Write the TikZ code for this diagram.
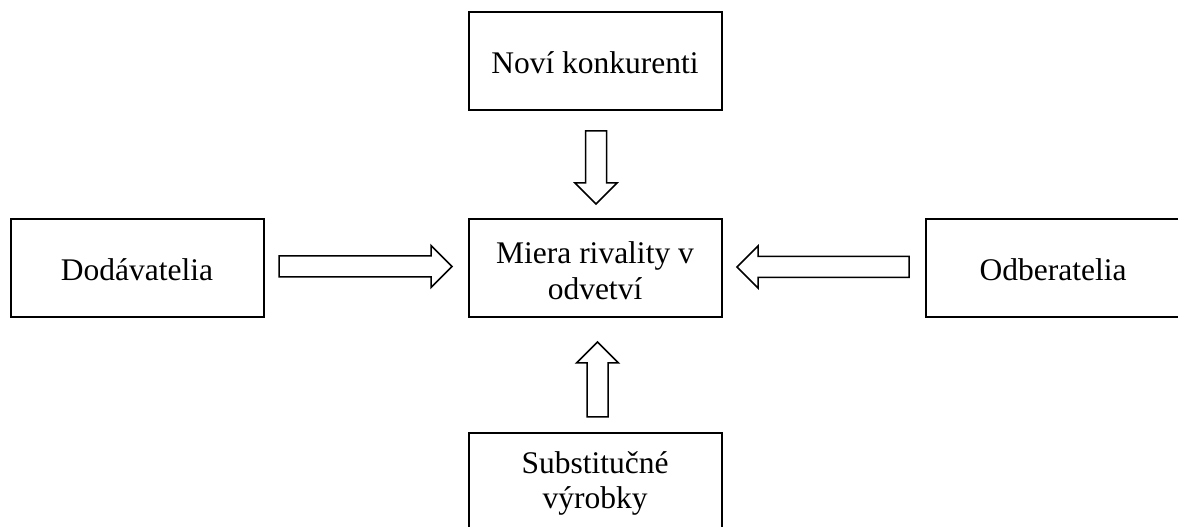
\documentclass[tikz,border=0pt]{standalone}
\usepackage{fontspec}
\setmainfont{Liberation Serif}
\usetikzlibrary{calc}
\tikzset{
  box/.style={draw, line width=2pt, rectangle, minimum width=253pt, minimum height=98pt,
    inner sep=0pt, outer sep=0pt, font=\fontsize{31.5pt}{36pt}\selectfont,
    text height=24.6pt, text depth=0pt},
  blockarrow/.style={line width=1.5pt, to path={
    let \p1=(\tikztostart), \p2=(\tikztotarget),
        \n1={veclen(\x2-\x1,\y2-\y1)},
        \n2={(\x2-\x1)/\n1}, \n3={(\y2-\y1)/\n1}
    in (\x1-\n3*10.5pt,\y1+\n2*10.5pt)
    -- (\x2-\n2*21pt-\n3*10.5pt,\y2-\n3*21pt+\n2*10.5pt)
    -- (\x2-\n2*21pt-\n3*21pt,\y2-\n3*21pt+\n2*21pt)
    -- (\x2,\y2)
    -- (\x2-\n2*21pt+\n3*21pt,\y2-\n3*21pt-\n2*21pt)
    -- (\x2-\n2*21pt+\n3*10.5pt,\y2-\n3*21pt-\n2*10.5pt)
    -- (\x1+\n3*10.5pt,\y1-\n2*10.5pt)
    -- cycle}}
}
\begin{document}
\begin{tikzpicture}[x=1pt,y=1pt]
\useasboundingbox (0,0) rectangle (1178,527);
\node[box] (top) at (595,465.5) {Noví konkurenti};
\node[box, text height=61.6pt] (mid) at (595,258.5)
  {\begin{tabular}[b]{@{}c@{}}Miera rivality v\\odvetví\end{tabular}};
\node[box] (dod) at (137,258.5) {Dodávatelia};
\node[box, minimum width=254pt] (odb) at (1053,258.5) {Odberatelia};
\node[box, text height=52.6pt] (sub) at (595,45)
  {\begin{tabular}[b]{@{}c@{}}Substitučné\\[-1pt]výrobky\end{tabular}};
\draw[blockarrow] ($(dod.east)+(15.5,2)$) to ($(mid.west)+(-16.5,2)$);
\draw[blockarrow] ($(odb.west)+(-17,1.5)$) to ($(mid.east)+(15.5,1.5)$);
\draw[blockarrow] ($(top.south)+(1,-20.5)$) to ($(mid.north)+(1,15.5)$);
\draw[blockarrow] ($(sub.north)+(2.5,16)$) to ($(mid.south)+(2.5,-24.5)$);
\end{tikzpicture}
\end{document}
